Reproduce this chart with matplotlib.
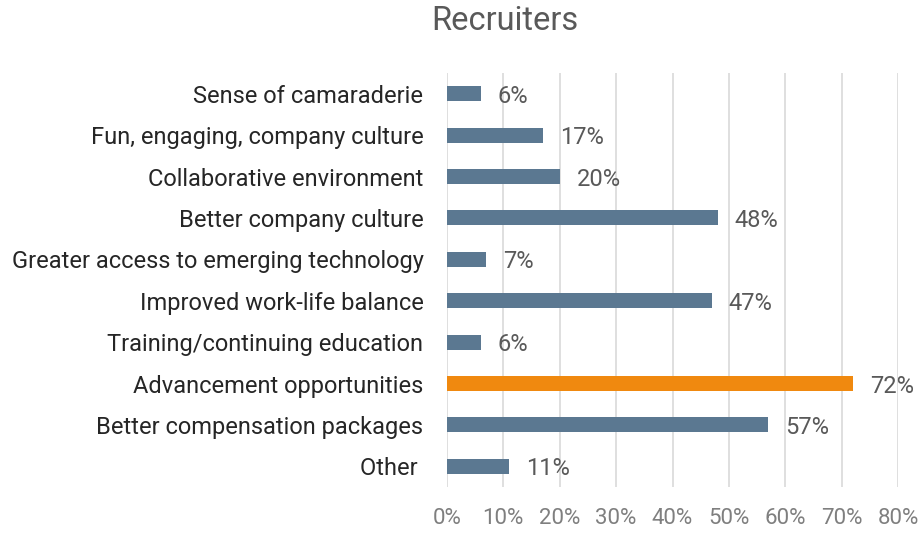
import matplotlib.pyplot as plt

categories = ["Sense of camaraderie", "Fun, engaging, company culture", "Collaborative environment",
              "Better company culture", "Greater access to emerging technology", "Improved work-life balance",
              "Training/continuing education", "Advancement opportunities", "Better compensation packages",
              "Other "]
values = [6, 17, 20, 48, 7, 47, 6, 72, 57, 11]
highlight = "Advancement opportunities"

plt.rcParams['font.family'] = ['Roboto', 'DejaVu Sans']

fig = plt.figure(figsize=(9.18, 5.33), dpi=100)
ax = fig.add_axes([447/918, 1-487/533, (898-447)/918, (487-73)/533])

pos = list(range(len(categories)))
colors = ["#f0890f" if c == highlight else "#5b7891" for c in categories]
ax.barh(pos, values, height=0.36, color=colors, zorder=3)
for p, v in zip(pos, values):
    ax.text(v + 3.0, p, f"{v}%", va='center_baseline', ha='left', fontsize=17, color="#595959")

ax.set_xlim(0, 80)
ax.set_ylim(len(categories) - 0.5, -0.5)
ax.set_xticks(range(0, 81, 10))
ax.set_xticklabels([f"{t}%" for t in range(0, 81, 10)])
ax.set_yticks(pos)
ax.set_yticklabels(categories)
ax.tick_params(axis='x', length=0, pad=15, labelsize=16, labelcolor="#7f7f7f")
ax.tick_params(axis='y', length=0, pad=17, labelsize=17, labelcolor="#262626")
ax.grid(axis='x', color="#d9d9d9", linewidth=1.2, zorder=0)
for s in ax.spines.values():
    s.set_visible(False)

fig.text(505/918, 1-21/533, "Recruiters", ha='center', va='center', fontsize=23.5, color="#595959")

fig.savefig("out.png", dpi=100)
